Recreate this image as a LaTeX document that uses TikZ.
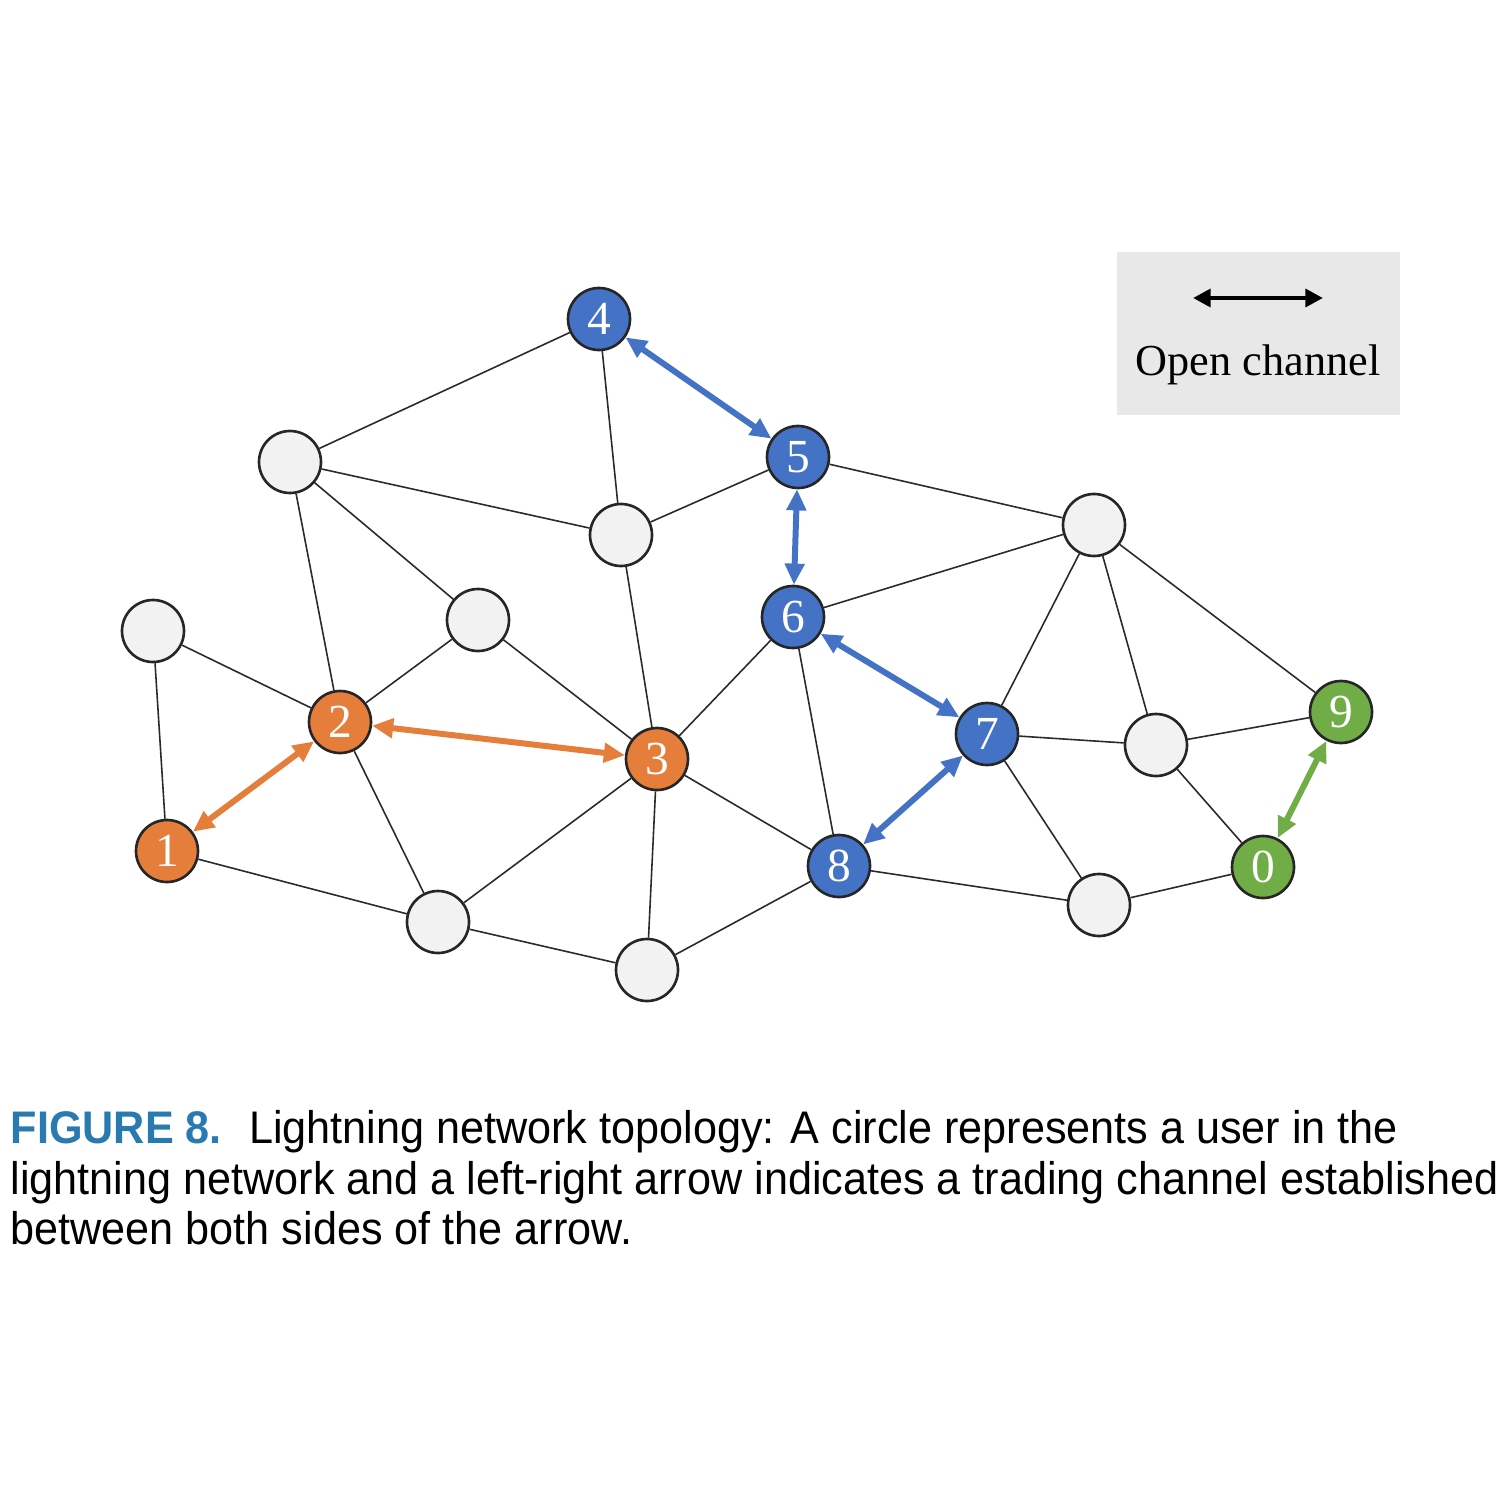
\documentclass[tikz,border=0pt]{standalone}
\usepackage{fontspec}
\setmainfont{Liberation Serif}
\newfontfamily\capfont[FakeStretch=0.945]{Liberation Sans}
\usetikzlibrary{arrows.meta}
\definecolor{nblue}{HTML}{4472C4}
\definecolor{norange}{HTML}{E57E3B}
\definecolor{ngreen}{HTML}{70AD47}
\definecolor{ngrey}{HTML}{F2F2F2}
\definecolor{legbg}{HTML}{E8E8E8}
\definecolor{capblue}{HTML}{2A7AB2}
\definecolor{edgecol}{HTML}{2A2A2A}
\tikzset{
  usr/.style={circle, draw=black!85, line width=0.75pt, minimum size=6.2mm, inner sep=0pt,
    font=\fontsize{13.5}{14}\selectfont, text=white},
  bnode/.style={usr, fill=nblue},
  onode/.style={usr, fill=norange},
  gnode/.style={usr, fill=ngreen},
  enode/.style={usr, fill=ngrey},
  link/.style={draw=edgecol, line width=0.45pt},
  chan/.style={line width=1.7pt, {Triangle[length=6pt,width=5.4pt]}-{Triangle[length=6pt,width=5.4pt]}},
  capline/.style={anchor=base west, inner sep=0pt, font=\capfont\fontsize{13}{15}\selectfont}
}
\begin{document}
\begin{tikzpicture}[x=0.1mm,y=-0.1mm]
\useasboundingbox[fill=white] (0,0) rectangle (1500,1500);

% legend
\fill[legbg] (1117,252) rectangle (1400,415);
\coordinate (la) at (1193,298);
\coordinate (lb) at (1323,298);
\draw[line width=1.3pt, {Triangle[length=5pt,width=5pt]}-{Triangle[length=5pt,width=5pt]}] (la) -- (lb);
\node[anchor=base, inner sep=0pt, font=\fontsize{12.6}{14}\selectfont] (legtxt) at (1258,375) {Open channel};

% nodes
\node[bnode] (n4) at (599,319) {4};
\node[bnode] (n5) at (798,457) {5};
\node[bnode] (n6) at (793,617) {6};
\node[bnode] (n7) at (987,734) {7};
\node[bnode] (n8) at (839,866) {8};
\node[onode] (n1) at (167,851) {1};
\node[onode] (n2) at (340,722) {2};
\node[onode] (n3) at (657,759) {3};
\node[gnode] (n9) at (1341,712) {9};
\node[gnode] (n0) at (1263,867) {0};
\node[enode] (a) at (290,462) {};
\node[enode] (b) at (621,535) {};
\node[enode] (c) at (153,631) {};
\node[enode] (d) at (478,620) {};
\node[enode] (e) at (1094,525) {};
\node[enode] (f) at (1156,745) {};
\node[enode] (g) at (1099,905) {};
\node[enode] (h) at (438,922) {};
\node[enode] (i) at (647,970) {};

% plain links
\foreach \p/\q in {n4/a, n4/b, a/b, a/n2, a/d, d/n2, d/n3, b/n3, b/n5, c/n2, c/n1,
  n2/h, n1/h, n3/h, n3/i, n3/n8, n3/n6, n6/n8, n6/e, n5/e, n7/e, e/f, e/n9,
  n7/f, n7/g, n8/g, f/n9, f/n0, g/n0, h/i, i/n8}
  \draw[link] (\p) -- (\q);

% channels
\draw[chan, nblue] (n4) -- (n5);
\draw[chan, nblue] (n5) -- (n6);
\draw[chan, nblue] (n6) -- (n7);
\draw[chan, nblue] (n7) -- (n8);
\draw[chan, norange] (n1) -- (n2);
\draw[chan, norange] (n2) -- (n3);
\draw[chan, ngreen] (n9) -- (n0);

% caption
\node[capline] (cap1) at (10,1143) {\textcolor{capblue}{\bfseries FIGURE 8.}\hspace{0.6em}Lightning network topology: A circle represents a user in the};
\node[capline] (cap2) at (10,1194) {lightning network and a left-right arrow indicates a trading channel established};
\node[capline] (cap3) at (10,1244) {between both sides of the arrow.};
\end{tikzpicture}
\end{document}
